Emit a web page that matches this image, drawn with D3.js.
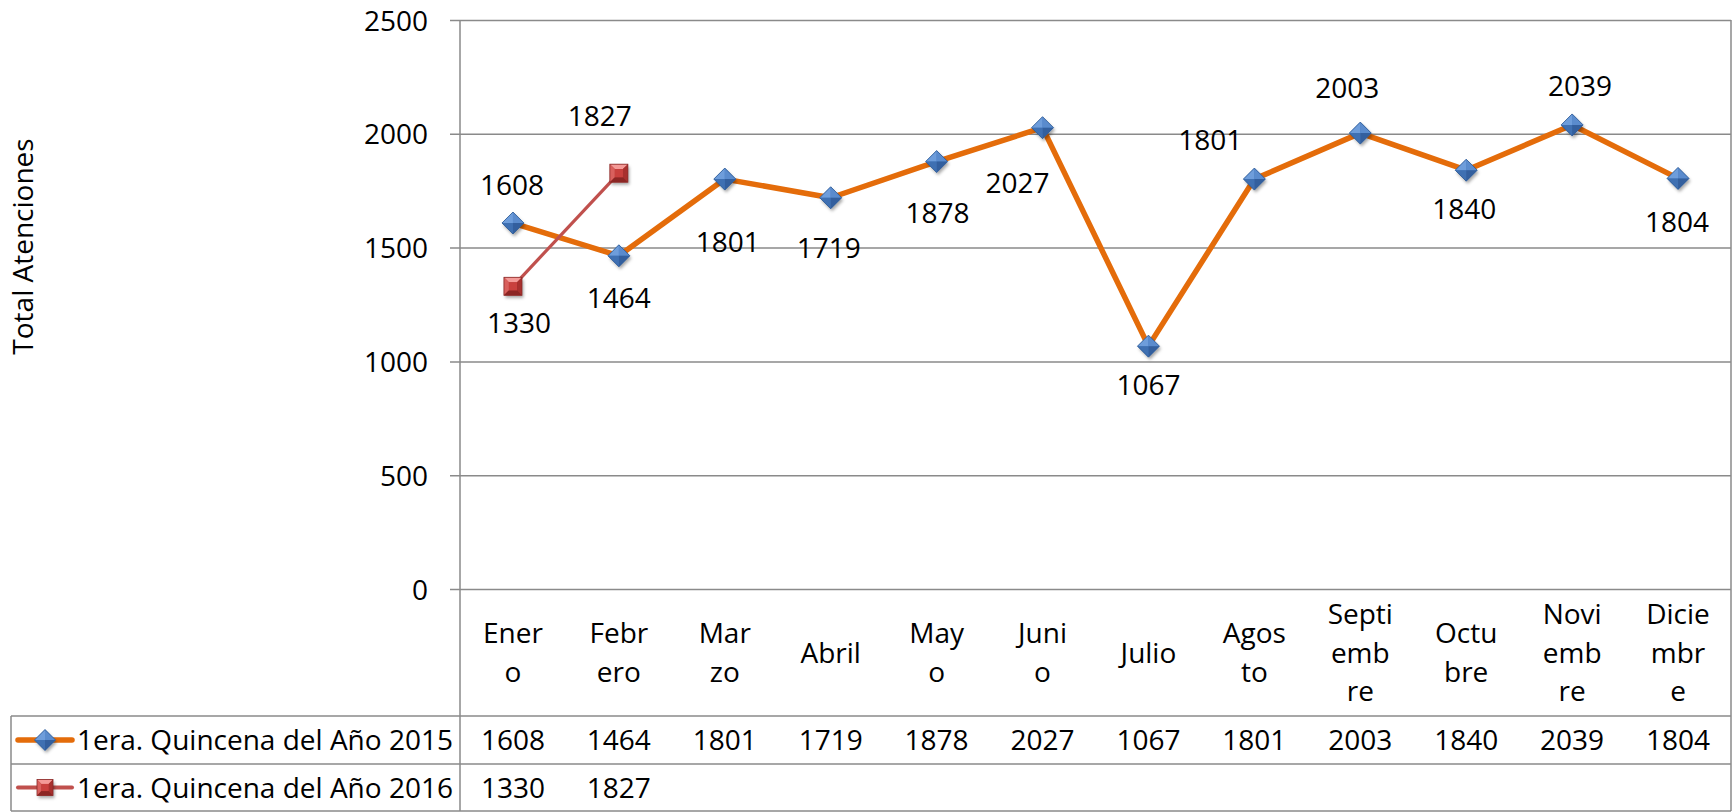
<!DOCTYPE html>
<html>
<head>
<meta charset="utf-8">
<script src="https://cdn.jsdelivr.net/npm/d3@7"></script>
<style>
  html, body { margin: 0; padding: 0; background: #ffffff; }
  svg { display: block; }
  text { font-family: "Open Sans", "Liberation Sans", sans-serif; fill: #000; }
</style>
</head>
<body>
<svg id="chart" width="1733" height="812"></svg>
<script>
// ---------------- DATA ----------------
const categories = ["Enero", "Febrero", "Marzo", "Abril", "Mayo", "Junio",
  "Julio", "Agosto", "Septiembre", "Octubre", "Noviembre", "Diciembre"];
const categoryLabelLines = [["Ener", "o"], ["Febr", "ero"], ["Mar", "zo"], ["Abril"],
  ["May", "o"], ["Juni", "o"], ["Julio"], ["Agos", "to"], ["Septi", "emb", "re"],
  ["Octu", "bre"], ["Novi", "emb", "re"], ["Dicie", "mbr", "e"]];
const seriesNames = ["1era. Quincena del Año 2015", "1era. Quincena del Año 2016"];
const values2015 = [1608, 1464, 1801, 1719, 1878, 2027, 1067, 1801, 2003, 1840, 2039, 1804];
const values2016 = [1330, 1827];
const yTicks = [0, 500, 1000, 1500, 2000, 2500];
const yTitle = "Total Atenciones";

// label placement (offset from its point, px) - layout only
const labelOffsets2015 = [[-1, -38], [0, 42], [3, 63], [-2, 50], [1, 51], [-25, 55],
  [0, 39], [-44, -39], [-13, -45], [-2, 39], [8, -39], [-1, 44]];
const labelOffsets2016 = [[6, 37], [-19, -57]];

// ---------------- LAYOUT ----------------
const W = 1733, H = 812;
const plotLeft = 460, plotRight = 1731, plotTop = 20, plotBottom = 589;
const tableLeft = 11, headerBottom = 716, row1Bottom = 764, row2Bottom = 811;
const fs = 28;
const gridColor = "#8a8a8a";

const svg = d3.select("#chart");

const x = d3.scaleBand().domain(categories).range([plotLeft, plotRight]).padding(0);
const y = d3.scaleLinear().domain([0, 2500]).range([plotBottom, plotTop]);
const cx = c => x(c) + x.bandwidth() / 2;

// defs: shadow
const defs = svg.append("defs");
const f = defs.append("filter").attr("id", "shadow").attr("x", "-50%").attr("y", "-50%")
  .attr("width", "200%").attr("height", "200%");
f.append("feDropShadow").attr("dx", 1.5).attr("dy", 2.5).attr("stdDeviation", 1.5)
  .attr("flood-color", "#000").attr("flood-opacity", 0.35);

// ---------------- GRID & AXIS ----------------
const yAxis = d3.axisLeft(y).tickValues(yTicks).tickSize(plotRight - plotLeft + 10)
  .tickSizeOuter(0).tickFormat(d3.format("d"));
const gAxis = svg.append("g").attr("transform", `translate(${plotRight},0)`).call(yAxis);
gAxis.select(".domain").remove();
gAxis.selectAll(".tick line").attr("stroke", gridColor).attr("stroke-width", 1.5);
gAxis.selectAll(".tick text")
  .attr("x", -(plotRight - plotLeft) - 32)
  .attr("dy", "0.36em")
  .attr("font-size", fs)
  .attr("font-family", "Open Sans, sans-serif")
  .attr("fill", "#000");

// vertical lines (y axis and right border, extend through table)
svg.append("line").attr("x1", plotLeft).attr("x2", plotLeft).attr("y1", plotTop).attr("y2", row2Bottom)
  .attr("stroke", gridColor).attr("stroke-width", 1.5);
svg.append("line").attr("x1", plotRight).attr("x2", plotRight).attr("y1", plotTop).attr("y2", row2Bottom)
  .attr("stroke", gridColor).attr("stroke-width", 1.5);
svg.append("line").attr("x1", tableLeft).attr("x2", tableLeft).attr("y1", headerBottom).attr("y2", row2Bottom)
  .attr("stroke", gridColor).attr("stroke-width", 1.5);
[headerBottom, row1Bottom, row2Bottom].forEach(yy => {
  svg.append("line").attr("x1", tableLeft).attr("x2", plotRight).attr("y1", yy).attr("y2", yy)
    .attr("stroke", gridColor).attr("stroke-width", 1.5);
});

// y title
svg.append("text")
  .attr("transform", `translate(33,${(plotTop + plotBottom) / 2 - 58}) rotate(-90)`)
  .attr("text-anchor", "middle")
  .attr("font-size", fs)
  .text(yTitle);

// ---------------- CATEGORY LABELS ----------------
const headerMid = (plotBottom + headerBottom) / 2;
const lineH = 38.5;
const catG = svg.append("g");
categories.forEach((c, i) => {
  const lines = categoryLabelLines[i];
  const t = catG.append("text").attr("text-anchor", "middle").attr("font-size", fs);
  lines.forEach((ln, j) => {
    t.append("tspan").attr("x", cx(c))
      .attr("y", headerMid + (j - (lines.length - 1) / 2) * lineH + 0.36 * fs)
      .text(ln);
  });
});

// ---------------- MARKERS ----------------
function diamond(g, s) {
  const r = s;
  g.append("path").attr("d", `M0,${-r}L${r},0L0,${r}L${-r},0Z`).attr("fill", "#4a7cc0")
    .attr("filter", "url(#shadow)");
  g.append("path").attr("d", `M0,${-r}L${-r},0L0,0Z`).attr("fill", "#6e9ddb");
  g.append("path").attr("d", `M0,${-r}L${r},0L0,0Z`).attr("fill", "#5a8bcd");
  g.append("path").attr("d", `M${-r},0L0,${r}L0,0Z`).attr("fill", "#3f70b2");
  g.append("path").attr("d", `M${r},0L0,${r}L0,0Z`).attr("fill", "#335f9e");
  g.append("path").attr("d", `M0,${-r}L${r},0L0,${r}L${-r},0Z`).attr("fill", "none")
    .attr("stroke", "#2f5a94").attr("stroke-width", 0.8);
}
function square(g, s) {
  const h = s, k = s * 0.45;
  g.append("rect").attr("x", -h).attr("y", -h).attr("width", 2 * h).attr("height", 2 * h)
    .attr("fill", "#b23c39").attr("filter", "url(#shadow)");
  g.append("path").attr("d", `M${-h},${-h}L${h},${-h}L${k},${-k}L${-k},${-k}Z`).attr("fill", "#f49a97");
  g.append("path").attr("d", `M${-h},${-h}L${-k},${-k}L${-k},${k}L${-h},${h}Z`).attr("fill", "#d9605d");
  g.append("path").attr("d", `M${h},${-h}L${k},${-k}L${k},${k}L${h},${h}Z`).attr("fill", "#a8302e");
  g.append("path").attr("d", `M${-h},${h}L${-k},${k}L${k},${k}L${h},${h}Z`).attr("fill", "#8c2624");
  g.append("rect").attr("x", -k).attr("y", -k).attr("width", 2 * k).attr("height", 2 * k).attr("fill", "#c9403d");
  g.append("rect").attr("x", -h).attr("y", -h).attr("width", 2 * h).attr("height", 2 * h)
    .attr("fill", "none").attr("stroke", "#8a2a28").attr("stroke-width", 0.8);
}

// ---------------- SERIES ----------------
const line = d3.line().x((d, i) => cx(categories[i])).y(d => y(d));

svg.append("path").datum(values2015).attr("d", line)
  .attr("fill", "none").attr("stroke", "#e46c0a").attr("stroke-width", 5.5)
  .attr("stroke-linejoin", "round").attr("stroke-linecap", "round");
svg.append("path").datum(values2016).attr("d", line)
  .attr("fill", "none").attr("stroke", "#c0504d").attr("stroke-width", 3.2)
  .attr("stroke-linejoin", "round");

values2015.forEach((v, i) => {
  const g = svg.append("g").attr("transform", `translate(${cx(categories[i])},${y(v)})`);
  diamond(g, 11);
});
values2016.forEach((v, i) => {
  const g = svg.append("g").attr("transform", `translate(${cx(categories[i])},${y(v)})`);
  square(g, 9);
});

// data labels
values2015.forEach((v, i) => {
  const o = labelOffsets2015[i];
  svg.append("text").attr("x", cx(categories[i]) + o[0]).attr("y", y(v) + o[1])
    .attr("dy", "0.36em").attr("text-anchor", "middle").attr("font-size", fs).text(v);
});
values2016.forEach((v, i) => {
  const o = labelOffsets2016[i];
  svg.append("text").attr("x", cx(categories[i]) + o[0]).attr("y", y(v) + o[1])
    .attr("dy", "0.36em").attr("text-anchor", "middle").attr("font-size", fs).text(v);
});

// ---------------- DATA TABLE ----------------
const rows = [
  { name: seriesNames[0], values: values2015, top: headerBottom, bottom: row1Bottom, kind: "diamond", color: "#e46c0a", lw: 5.5 },
  { name: seriesNames[1], values: values2016, top: row1Bottom, bottom: row2Bottom, kind: "square", color: "#c0504d", lw: 4 }
];
rows.forEach(r => {
  const mid = (r.top + r.bottom) / 2;
  // legend key
  svg.append("line").attr("x1", 18).attr("x2", 72).attr("y1", mid).attr("y2", mid)
    .attr("stroke", r.color).attr("stroke-width", r.lw).attr("stroke-linecap", "round");
  const g = svg.append("g").attr("transform", `translate(45,${mid})`);
  if (r.kind === "diamond") diamond(g, 10.5); else square(g, 8);
  svg.append("text").attr("x", 77).attr("y", mid).attr("dy", "0.36em")
    .attr("font-size", fs).text(r.name);
  r.values.forEach((v, i) => {
    svg.append("text").attr("x", cx(categories[i])).attr("y", mid).attr("dy", "0.36em")
      .attr("text-anchor", "middle").attr("font-size", fs).text(v);
  });
});
</script>
</body>
</html>
